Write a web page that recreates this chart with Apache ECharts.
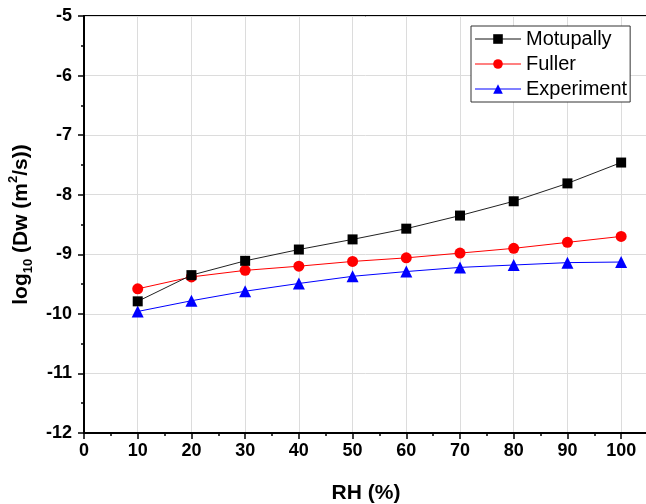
<!DOCTYPE html>
<html>
<head>
<meta charset="utf-8">
<script src="https://cdn.jsdelivr.net/npm/echarts@6/dist/echarts.min.js"></script>
<style>
html,body{margin:0;padding:0;background:#fff;}
#chart{width:646px;height:504px;}
</style>
</head>
<body>
<div id="chart"></div>
<script>
var rh = [10, 20, 30, 40, 50, 60, 70, 80, 90, 100];
var motupally = [-9.79, -9.35, -9.11, -8.92, -8.75, -8.57, -8.35, -8.11, -7.81, -7.46];
var fuller = [-9.58, -9.38, -9.27, -9.20, -9.12, -9.06, -8.98, -8.90, -8.80, -8.70];
var experiment = [-9.96, -9.78, -9.62, -9.49, -9.37, -9.29, -9.22, -9.18, -9.14, -9.13];
var seriesNames = ['Motupally', 'Fuller', 'Experiment'];

function pairs(ys) { return rh.map(function (x, i) { return [x, ys[i]]; }); }

var FONT = "'Liberation Sans', Arial, sans-serif";
var chart = echarts.init(document.getElementById('chart'), null, {renderer: 'canvas'});
chart.setOption({
  animation: false,
  backgroundColor: '#fff',
  grid: {left: 84, right: -2, top: 16, bottom: 71, containLabel: false, outerBoundsMode: 'none',
    show: true, borderColor: '#000', borderWidth: 2, backgroundColor: 'transparent'},
  legend: {
    left: 471, top: 26, orient: 'vertical',
    data: [
      {name: seriesNames[0], lineStyle: {color: '#888'}},
      {name: seriesNames[1], lineStyle: {color: '#ff8080'}},
      {name: seriesNames[2], lineStyle: {color: '#8080ff'}}
    ],
    backgroundColor: '#fff',
    borderColor: '#333', borderWidth: 1,
    padding: [3, 3, 3, 3],
    itemGap: 5, itemWidth: 46, itemHeight: 12,
    textStyle: {fontFamily: FONT, fontSize: 20, color: '#000'}
  },
  xAxis: [{
    type: 'value', min: 0, max: 105, interval: 10,
    name: 'RH (%)', nameLocation: 'middle', nameGap: 50,
    nameTextStyle: {fontFamily: FONT, fontSize: 21, fontWeight: 'bold', color: '#000'},
    axisLine: {show: true, onZero: false, lineStyle: {color: '#000', width: 2}},
    axisTick: {show: true, inside: false, length: 6, lineStyle: {color: '#000', width: 1.5}},
    axisLabel: {fontFamily: FONT, fontSize: 18, fontWeight: 'bold', color: '#000', margin: 9,
      showMaxLabel: false, hideOverlap: false,
      formatter: function (v) { return (Math.round(v) % 10 === 0 && v <= 100) ? String(v) : ''; }},
    splitLine: {show: true, lineStyle: {color: '#dcdcdc', width: 1}}
  }, {
    type: 'value', min: 0, max: 105, interval: 5, position: 'bottom', gridIndex: 0,
    axisLine: {show: false},
    axisTick: {show: true, inside: false, length: 3, lineStyle: {color: '#000', width: 1.5}},
    axisLabel: {show: false},
    splitLine: {show: false}
  }],
  yAxis: {
    type: 'value', min: -12, max: -5, interval: 1,
    name: '{m|log}{s|10}{m| (Dw (m}{p|2}{m|/s))}',
    nameLocation: 'middle', nameGap: 41, nameRotate: 90,
    nameTextStyle: {
      fontFamily: FONT, fontSize: 21, fontWeight: 'bold', color: '#000',
      rich: {
        m: {fontFamily: FONT, fontSize: 21, fontWeight: 'bold', color: '#000', lineHeight: 28, verticalAlign: 'middle'},
        s: {fontFamily: FONT, fontSize: 13, fontWeight: 'bold', color: '#000', lineHeight: 13, verticalAlign: 'bottom'},
        p: {fontFamily: FONT, fontSize: 13, fontWeight: 'bold', color: '#000', lineHeight: 13, verticalAlign: 'top'}
      }
    },
    axisLine: {show: true, onZero: false, lineStyle: {color: '#000', width: 2}},
    axisTick: {show: true, inside: false, length: 6, lineStyle: {color: '#000', width: 1.5}},
    minorTick: {show: true, splitNumber: 2, length: 3, lineStyle: {color: '#000', width: 1.5}},
    axisLabel: {fontFamily: FONT, fontSize: 18, fontWeight: 'bold', color: '#000', margin: 12},
    splitLine: {show: true, lineStyle: {color: '#dcdcdc', width: 1}}
  },
  series: [{
    name: seriesNames[0], type: 'line', data: pairs(motupally),
    symbol: 'rect', symbolSize: 10, z: 3,
    lineStyle: {color: '#222', width: 1}, itemStyle: {color: '#000'}
  }, {
    name: seriesNames[1], type: 'line', data: pairs(fuller),
    symbol: 'circle', symbolSize: 11, z: 2,
    lineStyle: {color: '#ff0000', width: 1}, itemStyle: {color: '#ff0000'}
  }, {
    name: seriesNames[2], type: 'line', data: pairs(experiment),
    symbol: 'triangle', symbolSize: 12, z: 1,
    lineStyle: {color: '#0000ff', width: 1}, itemStyle: {color: '#0000ff'}
  }]
});
</script>
</body>
</html>
